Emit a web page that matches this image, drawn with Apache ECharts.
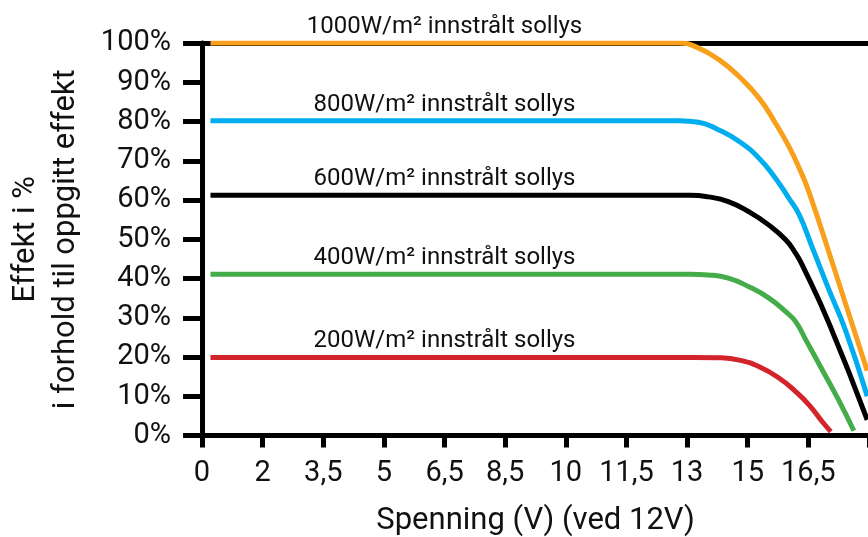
<!DOCTYPE html>
<html>
<head>
<meta charset="utf-8">
<script src="https://cdn.jsdelivr.net/npm/echarts@6/dist/echarts.min.js"></script>
<style>
html,body{margin:0;padding:0;background:#fff;}
#chart{width:868px;height:537px;}
</style>
</head>
<body>
<div id="chart"></div>
<script>
// X tick labels (evenly spaced positions on the axis)
const xTicks = ['0','2','3,5','5','6,5','8,5','10','11,5','13','15','16,5'];

// Series: [axis position (tick index), percent]
const s1000 = [[0.14,100],[7.5,100],[7.87,100],[8.19,98.7],[8.53,95.7],[8.86,91.4],[9.19,85.9],[9.46,79.5],[9.68,73.6],[9.85,68.1],[10.01,62],[10.45,41.4],[10.97,16.5]];
const s800  = [[0.14,80.2],[7.5,80.2],[7.87,80.2],[8.19,79.8],[8.53,77.8],[8.86,74.9],[9.19,70.6],[9.46,65.5],[9.68,60.4],[9.85,56.2],[10.06,48.1],[10.34,37.1],[10.61,26.9],[10.97,10]];
const s600  = [[0.14,61.2],[7.7,61.2],[8.04,61.2],[8.35,60.8],[8.68,59.6],[9.02,57.0],[9.35,53.6],[9.63,49.8],[9.79,46.4],[9.90,43.4],[10.34,28.6],[10.97,4.0]];
const s400  = [[0.14,41.1],[7.7,41.1],[8.04,41.1],[8.35,40.9],[8.68,40.1],[9.02,37.9],[9.35,35.0],[9.63,31.5],[9.79,29.0],[9.96,24.3],[10.23,16.7],[10.50,9.0],[10.75,1.2]];
const s200  = [[0.14,19.9],[8.1,19.9],[8.53,19.8],[8.86,19.2],[9.19,17.5],[9.52,14.6],[9.79,11.2],[10.01,7.8],[10.23,3.5],[10.37,1.0]];

const seriesNames = ['1000W/m² innstrålt sollys','800W/m² innstrålt sollys','600W/m² innstrålt sollys','400W/m² innstrålt sollys','200W/m² innstrålt sollys'];
const seriesData = [s1000, s800, s600, s400, s200];
const seriesLevels = [100, 80.2, 61.2, 41.1, 19.9];
const seriesColors = ['#F8A01C','#00AEEF','#000000','#44AD4A','#D3232B'];
const labelPos = 4.0;

const FONT = 'Roboto';
const chart = echarts.init(document.getElementById('chart'));

const series = seriesData.map((d, i) => ({
  name: seriesNames[i],
  type: 'line',
  data: d,
  smooth: 0.5,
  symbol: 'none',
  z: 10 - i,
  lineStyle: { color: seriesColors[i], width: 5 },
  markPoint: {
    symbol: 'rect',
    symbolSize: 1,
    itemStyle: { color: 'rgba(0,0,0,0)' },
    label: {
      show: true,
      position: 'inside',
      offset: [0, -16],
      color: '#111',
      fontFamily: FONT,
      fontSize: 24,
      formatter: seriesNames[i]
    },
    data: [{ coord: [labelPos, seriesLevels[i]] }]
  }
}));

// 100% reference line
series.push({
  type: 'line',
  data: [],
  silent: true,
  markLine: {
    z: 1,
    silent: true,
    symbol: 'none',
    label: { show: false },
    lineStyle: { color: '#000', width: 5, type: 'solid' },
    data: [{ yAxis: 100 }]
  }
});

chart.setOption({
  animation: false,
  grid: { left: 202, right: -1, top: 43, bottom: 101.5, containLabel: false, outerBoundsMode: 'none' },
  xAxis: {
    type: 'value',
    min: 0, max: 11, interval: 1,
    name: 'Spenning (V) (ved 12V)',
    nameLocation: 'middle',
    nameGap: 68,
    nameTextStyle: { fontFamily: FONT, fontSize: 31, color: '#111', lineHeight: 36 },
    axisLine: { show: true, lineStyle: { color: '#000', width: 5 } },
    axisTick: { show: true, length: 12, lineStyle: { color: '#000', width: 5 } },
    axisLabel: {
      margin: 23, fontFamily: FONT, fontSize: 29, color: '#111', lineHeight: 30,
      formatter: v => { const k = Math.round(v); return (Math.abs(v-k) < 1e-6 && xTicks[k] !== undefined) ? xTicks[k] : ''; }
    },
    splitLine: { show: false }
  },
  yAxis: {
    type: 'value',
    min: 0, max: 100, interval: 10,
    name: 'Effekt i %\ni forhold til oppgitt effekt',
    nameLocation: 'middle',
    nameRotate: 90,
    nameGap: 116,
    nameTextStyle: { fontFamily: FONT, fontSize: 31, color: '#111', lineHeight: 40, align: 'center' },
    axisLine: { show: true, lineStyle: { color: '#000', width: 5 } },
    axisTick: { show: true, length: 19, lineStyle: { color: '#000', width: 5 } },
    axisLabel: { margin: 31, fontFamily: FONT, fontSize: 29, color: '#111', formatter: '{value}%' },
    splitLine: { show: false }
  },
  series: series
});
</script>
</body>
</html>
